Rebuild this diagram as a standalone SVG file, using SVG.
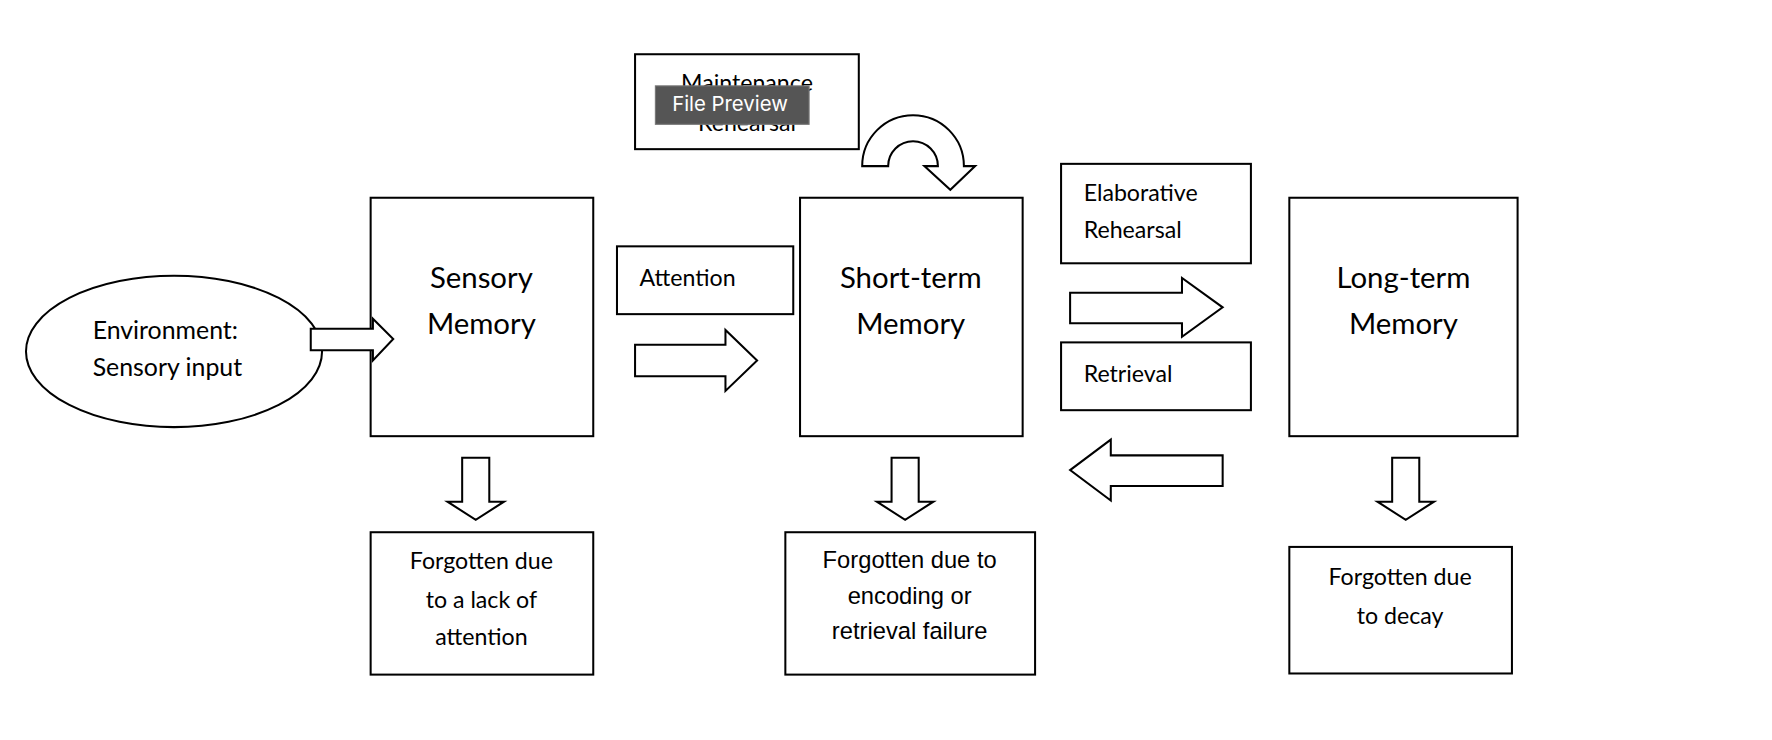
<svg xmlns="http://www.w3.org/2000/svg" width="1772" height="740" viewBox="0 0 1772 740">
<style>
.s{fill:#fff;stroke:#000;stroke-width:1.8}
.t{font-family:Lato,"Open Sans",sans-serif;fill:#000;dominant-baseline:central}
.big{font-size:26px;text-anchor:middle}
.m{font-size:20.5px}
.e{font-size:22px}
.c{text-anchor:middle}
.a{font-family:"Liberation Sans",Arial,sans-serif;font-size:21px;text-anchor:middle;fill:#000;dominant-baseline:central}
</style>
<rect width="1772" height="740" fill="#fff"/>
<g transform="scale(1.13)">
<g id="environment"><ellipse class="s" cx="154" cy="311" rx="131" ry="67"/>
<text class="t e" x="82" y="291">Environment:</text><text class="t e" x="82" y="324">Sensory input</text></g>
<g id="sensory"><rect class="s" x="328" y="175" width="197" height="211"/>
<text class="t big" x="426" y="245">Sensory</text><text class="t big" x="426" y="285">Memory</text></g>
<g id="attention"><rect class="s" x="546" y="218" width="156" height="60"/><text class="t m" x="566" y="245">Attention</text></g>
<g id="stm"><rect class="s" x="708" y="175" width="197" height="211"/>
<text class="t big" x="806" y="245">Short-term</text><text class="t big" x="806" y="285">Memory</text></g>
<g id="maintenance"><rect class="s" x="562" y="48" width="198" height="84"/>
<text class="t m c" x="661" y="73">Maintenance</text><text class="t m c" x="661" y="108">Rehearsal</text></g>
<g id="elaborative"><rect class="s" x="939" y="145" width="168" height="88"/>
<text class="t m" x="959" y="170">Elaborative</text><text class="t m" x="959" y="203">Rehearsal</text></g>
<g id="retrieval"><rect class="s" x="939" y="303" width="168" height="60"/><text class="t m" x="959" y="330">Retrieval</text></g>
<g id="ltm"><rect class="s" x="1141" y="175" width="202" height="211"/>
<text class="t big" x="1242" y="245">Long-term</text><text class="t big" x="1242" y="285">Memory</text></g>
<g id="forgot1"><rect class="s" x="328" y="471" width="197" height="126"/>
<text class="t m c" x="426" y="496">Forgotten due</text><text class="t m c" x="426" y="530">to a lack of</text><text class="t m c" x="426" y="563">attention</text></g>
<g id="forgot2"><rect class="s" x="695" y="471" width="221" height="126"/>
<text class="a" x="805" y="496">Forgotten due to</text><text class="a" x="805" y="527">encoding or</text><text class="a" x="805" y="558">retrieval failure</text></g>
<g id="forgot3"><rect class="s" x="1141" y="484" width="197" height="112"/>
<text class="t m c" x="1239" y="510">Forgotten due</text><text class="t m c" x="1239" y="544">to decay</text></g>
<g id="connectors">
<path class="s" d="M275,291 H330 V282 L348,300 L330,319 V310 H275 Z"/>
<path class="s" d="M562,305 H642 V292 L670,319 L642,346 V333 H562 Z"/>
<path class="s" d="M763,147 A45,45 0 0 1 853,147 L863,147 L841,168 L818,147 L830,147 A22,22 0 0 0 786,147 Z"/>
<path class="s" d="M947,259 H1046 V246 L1082,272 L1046,298 V286 H947 Z"/>
<path class="s" d="M1082,403 H983 V389 L947,416 L983,443 V430 H1082 Z"/>
<path class="s" d="M409,405 H433 V444 H446 L421,460 L396,444 H409 Z"/>
<path class="s" d="M789,405 H813 V444 H826 L801,460 L776,444 H789 Z"/>
<path class="s" d="M1232,405 H1256 V444 H1269 L1244,460 L1219,444 H1232 Z"/>
</g>
<g id="file-preview"><rect x="580" y="76" width="136" height="34" fill="#555" stroke="#777"/>
<text x="646" y="92" font-family="Inter,'Open Sans',sans-serif" font-size="18" fill="#fff" text-anchor="middle" dominant-baseline="central">File Preview</text></g>
</g>
</svg>
